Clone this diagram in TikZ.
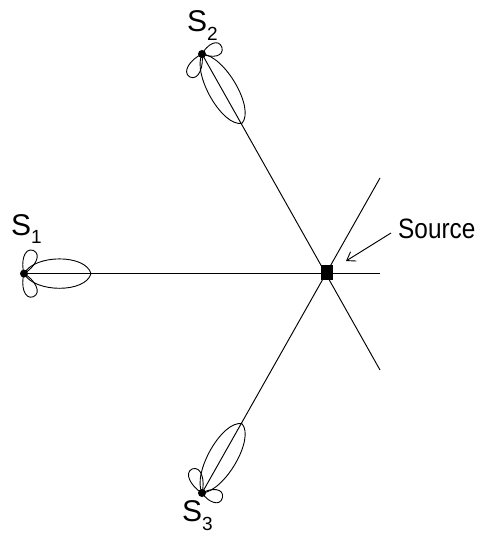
\documentclass[tikz,border=0pt]{standalone}
\usepackage{fontspec}
\setmainfont{Liberation Sans}
\newfontfamily\condensed[FakeStretch=0.87]{Liberation Sans}
\usetikzlibrary{arrows.meta}
\newcommand{\lobe}[4]{% origin, screen angle (counterclockwise), length, width
  \draw[lobeline,shift={(#1)},rotate=#2] (0,0) .. controls (.16*#3,.7*#4) and (.92*#3,.7*#4) .. (#3,0)
     .. controls (.92*#3,-.7*#4) and (.16*#3,-.7*#4) .. (0,0);}
\newcommand{\sidelobe}[4]{% teardrop, narrow at the sensor
  \draw[lobeline,shift={(#1)},rotate=#2] (0,0) .. controls (.38*#3,.62*#4) and (.98*#3,.82*#4) .. (#3,0)
     .. controls (.98*#3,-.82*#4) and (.38*#3,-.62*#4) .. (0,0);}
\newcommand{\slabel}[1]{S\raisebox{-.3em}{\fontsize{19}{19}\selectfont #1}}
\tikzset{
  lobeline/.style={line width=.9pt,black},
  ray/.style={line width=.95pt,black},
  sensor/.style={circle,fill=black,inner sep=0pt,minimum size=8pt},
  sourcebox/.style={rectangle,fill=black,inner sep=0pt,minimum width=12pt,minimum height=15pt},
  lab/.style={inner sep=0pt,anchor=base west,font=\fontsize{28}{28}\selectfont},
  slab/.style={inner sep=0pt,anchor=base west,font=\fontsize{30}{30}\selectfont},
}
\begin{document}
\begin{tikzpicture}[x=1pt,y=-1pt]
\useasboundingbox (0,0) rectangle (476,534);
\coordinate (e1) at (380,273.6);
\coordinate (e2) at (380,370);
\coordinate (e3) at (380,178);
\coordinate (p1) at (24,273.6);
\coordinate (p2) at (202,54);
\coordinate (p3) at (202,493);
\draw[ray] (p1) -- (e1);
\draw[ray] (p2) -- (e2);
\draw[ray] (p3) -- (e3);
% S1 lobes
\lobe{p1}{0}{67}{28}
\sidelobe{p1}{68}{25}{12}
\sidelobe{p1}{-68}{25}{12}
% S2 lobes
\lobe{p2}{-60}{80}{27}
\sidelobe{p2}{19}{21}{12}
\sidelobe{p2}{-118}{26}{12}
% S3 lobes
\lobe{p3}{60}{80}{27}
\sidelobe{p3}{-13}{21}{12}
\sidelobe{p3}{112}{26}{12}
\node[sensor] (s1) at (p1) {};
\node[sensor] (s2) at (p2) {};
\node[sensor] (s3) at (p3) {};
\node[sourcebox] (src) at (327,272.5) {};
\node[slab] (l1) at (11,235) {\slabel{1}};
\node[slab] (l2) at (187,32) {\slabel{2}};
\node[slab] (l3) at (182,521) {\slabel{3}};
\node[lab] (srclab) at (398,238) {\condensed Source};
\coordinate (a1) at (391,233);
\coordinate (a2) at (346,261);
\draw[ray,-{Straight Barb[length=8pt,width=11pt,line width=.9pt]}] (a1) -- (a2);
\end{tikzpicture}
\end{document}
